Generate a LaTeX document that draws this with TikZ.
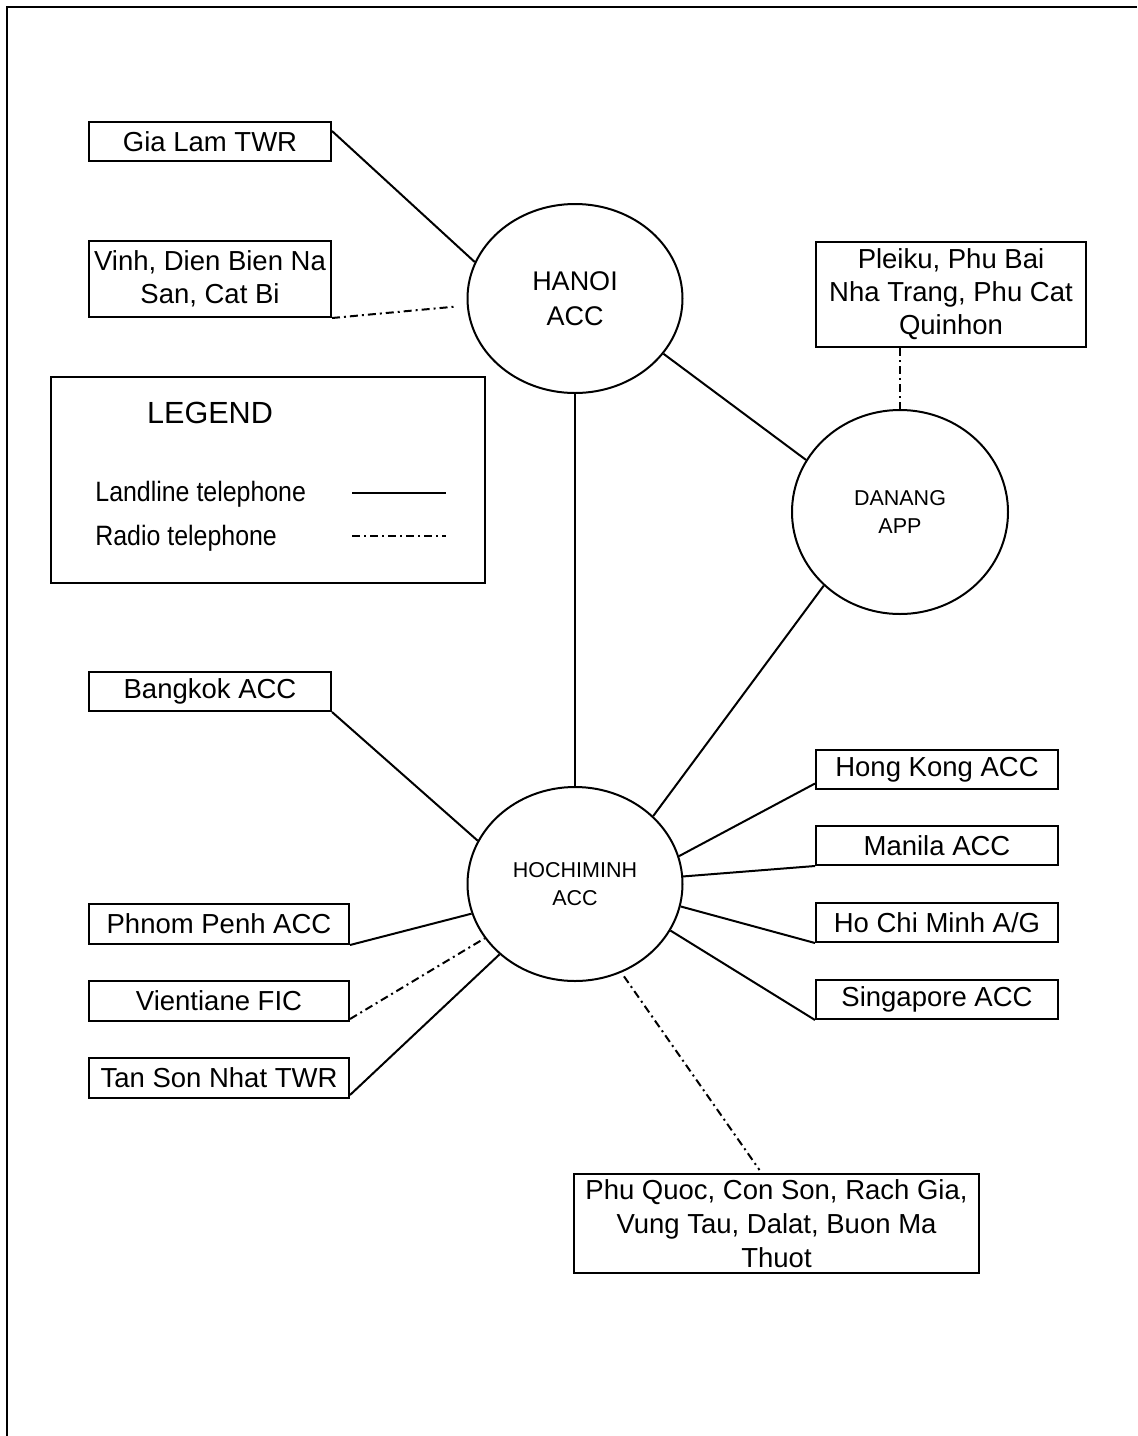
\documentclass[tikz,border=0pt]{standalone}
\usepackage{fontspec}
\setmainfont{Liberation Sans}
\newfontfamily\narrowfont[FakeStretch=0.89]{Liberation Sans}
\usetikzlibrary{shapes.geometric,calc}

\tikzset{
  link/.style={line width=1pt},
  radio/.style={line width=1pt, dash pattern=on 4pt off 2pt on 1pt off 2pt},
  place/.style={draw, line width=1pt, inner sep=0pt, anchor=north west,
    align=center, font={\fontsize{13.75}{16.5}\selectfont}},
  centre/.style={draw, ellipse, line width=1pt, inner sep=0pt, align=center},
  keytext/.style={inner sep=0pt, font={\narrowfont\fontsize{14}{16}\selectfont}, anchor=base west}
}

\begin{document}
\begin{tikzpicture}[x=0.5pt, y=-0.5pt]
\useasboundingbox (0,0) rectangle (1137,1436);

% page frame
\draw[line width=1.2pt] (7,1436) -- (7,7) -- (1137,7);

% control centres
\node[centre, minimum width=107.5pt, minimum height=94.5pt,
      font={\fontsize{13.5}{17.5}\selectfont}] (hanoi) at (575,298.5) {HANOI\\ACC};
\node[centre, minimum width=108pt, minimum height=102pt,
      font={\fontsize{10.75}{14}\selectfont}] (danang) at (900,512) {DANANG\\APP};
\node[centre, minimum width=107.5pt, minimum height=97pt,
      font={\fontsize{10.75}{14}\selectfont}] (hcm) at (575,884) {HOCHIMINH\\ACC};

% stations
\node[place, minimum width=121pt, minimum height=19.5pt] (gialam) at (88,121) {Gia Lam TWR};
\node[place, minimum width=121pt, minimum height=38pt] (vinh) at (88,240) {Vinh, Dien Bien Na\\San, Cat Bi};
\node[place, minimum width=135pt, minimum height=52.5pt] (pleiku) at (815,241) {Pleiku, Phu Bai\\Nha Trang, Phu Cat\\Quinhon};
\node[place, minimum width=121pt, minimum height=19.5pt] (bangkok) at (88,671) {Bangkok ACC};
\node[place, minimum width=130pt, minimum height=20pt] (phnom) at (88,903) {Phnom Penh ACC};
\node[place, minimum width=130pt, minimum height=20pt] (vientiane) at (88,980) {Vientiane FIC};
\node[place, minimum width=130pt, minimum height=20pt] (tsn) at (88,1057) {Tan Son Nhat TWR};
\node[place, minimum width=121pt, minimum height=19.5pt] (hk) at (815,749) {Hong Kong ACC};
\node[place, minimum width=121pt, minimum height=19.5pt] (manila) at (815,825) {Manila ACC};
\node[place, minimum width=121pt, minimum height=19.5pt] (hcmag) at (815,902) {Ho Chi Minh A/G};
\node[place, minimum width=121pt, minimum height=19.5pt] (singapore) at (815,979) {Singapore ACC};
\node[place, minimum width=202.5pt, minimum height=49.5pt,
      font={\fontsize{13.75}{17}\selectfont}] (phuquoc) at (573,1173)
      {Phu Quoc, Con Son, Rach Gia,\\Vung Tau, Dalat, Buon Ma\\Thuot};

% legend
\node[draw, line width=1pt, anchor=north west, minimum width=217pt, minimum height=103pt,
      inner sep=0pt] (legend) at (50,376) {};
\node[inner sep=0pt, anchor=base, font={\fontsize{15.3}{18}\selectfont}] (legendtitle) at (210,423) {LEGEND};
\node[keytext] (landline) at (95,501.5) {Landline telephone};
\node[keytext] (radiotel) at (95,545) {Radio telephone};
\coordinate (landA) at (352,493);
\coordinate (landB) at (446,493);
\coordinate (radioA) at (352,536);
\coordinate (radioB) at (446,536);
\draw[link] (landA) -- (landB);
\draw[radio] (radioA) -- (radioB);

% links around Hanoi
\draw[link] ($(gialam.north east)+(0,10)$) -- (hanoi.160);
\draw[radio] (vinh.south east) -- ($(hanoi.west)+(-10,8)$);
\draw[link] (hanoi.south) -- (hcm.north);
\draw[link] (hanoi.-32) -- (danang.151);
\draw[radio] (danang.north |- pleiku.south) -- (danang.north);
\draw[link] (danang.224.6) -- (hcm.41.1);

% links around Ho Chi Minh
\draw[link] (bangkok.south east) -- (hcm.156.3);
\draw[link] (phnom.south east) -- (hcm.196.5);
\draw[radio] ($(vientiane.south east)+(0,-3)$) -- (hcm.211.7);
\draw[link] ($(tsn.south east)+(0,-4)$) -- (hcm.223.6);
\draw[link] ($(hk.west)+(0,14)$) -- (hcm.15.8);
\draw[link] (manila.south west) -- (hcm.4.3);
\draw[link] (hcmag.south west) -- (hcm.-12.6);
\draw[link] (singapore.south west) -- (hcm.-26.7);
\draw[radio] ($(hcm.-62.7)+(2,4)$) -- ($(phuquoc.north)+(-17,-3)$);
\end{tikzpicture}
\end{document}
